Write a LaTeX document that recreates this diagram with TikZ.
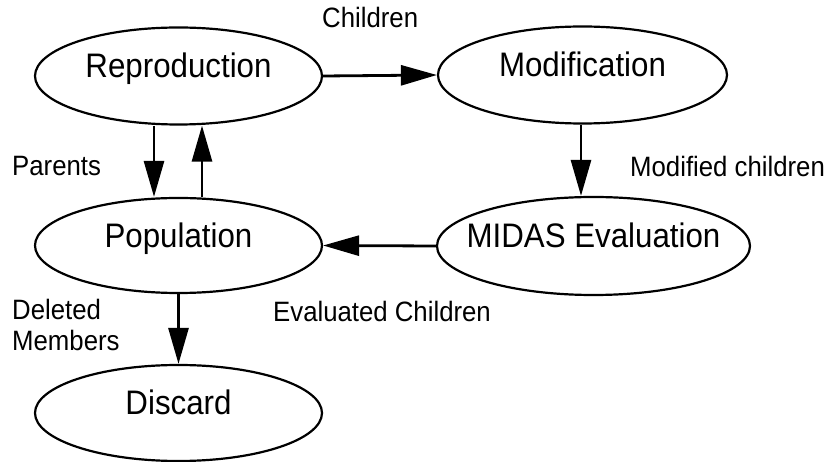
\documentclass[tikz,border=0pt]{standalone}
\usepackage{fontspec}
\setmainfont{Liberation Sans}[FakeStretch=0.92]
\usetikzlibrary{shapes.geometric,arrows.meta}
\tikzset{
  proc/.style={ellipse, draw, line width=2.2pt, inner sep=0pt,
    text height=24pt, text depth=20pt, font=\fontsize{34}{40}\selectfont},
  lbl/.style={anchor=base west, inner sep=0pt, font=\fontsize{28}{31}\selectfont},
  arr/.style={line width=2.8pt, -{Triangle[length=36pt,width=20pt]}}
}
\newcommand{\zw}[1]{\makebox[0pt]{#1}}
\begin{document}
\begin{tikzpicture}[x=1pt,y=-1pt]
\useasboundingbox (0,0) rectangle (831,462);
\node[proc, minimum width=287pt, minimum height=97pt] (rep) at (178.5,76) {\zw{Reproduction}};
\node[proc, minimum width=289pt, minimum height=97pt] (mod) at (582.5,75) {\zw{Modification}};
\node[proc, minimum width=287pt, minimum height=95pt] (pop) at (178.5,245.5) {\zw{Population}};
\node[proc, minimum width=313pt, minimum height=98pt] (mid) at (593.5,246) {\zw{MIDAS Evaluation}};
\node[proc, minimum width=287pt, minimum height=96pt] (dis) at (178.5,413) {\zw{Discard}};

\draw[arr] (rep.east) -- (mod.west);
\draw[arr] ([xshift=-24.5pt]rep.south) -- ([xshift=-24.5pt]pop.north);
\draw[arr] ([xshift=23.5pt]pop.north) -- ([xshift=23.5pt]rep.south);
\draw[arr] ([xshift=-1.5pt]mod.south) -- ([xshift=-1.5pt]mod.south |- mid.north);
\draw[arr] (mid.west) -- (pop.east);
\draw[arr] (pop.south) -- (dis.north);

\node[lbl] (lchildren) at (322,28) {Children};
\node[lbl] (lparents) at (12,176) {Parents};
\node[lbl] (lmodified) at (630,177) {Modified children};
\node[lbl, align=left] (ldeleted) at (12,351) {Deleted\\Members};
\node[lbl] (levaluated) at (273,322) {Evaluated Children};
\end{tikzpicture}
\end{document}
